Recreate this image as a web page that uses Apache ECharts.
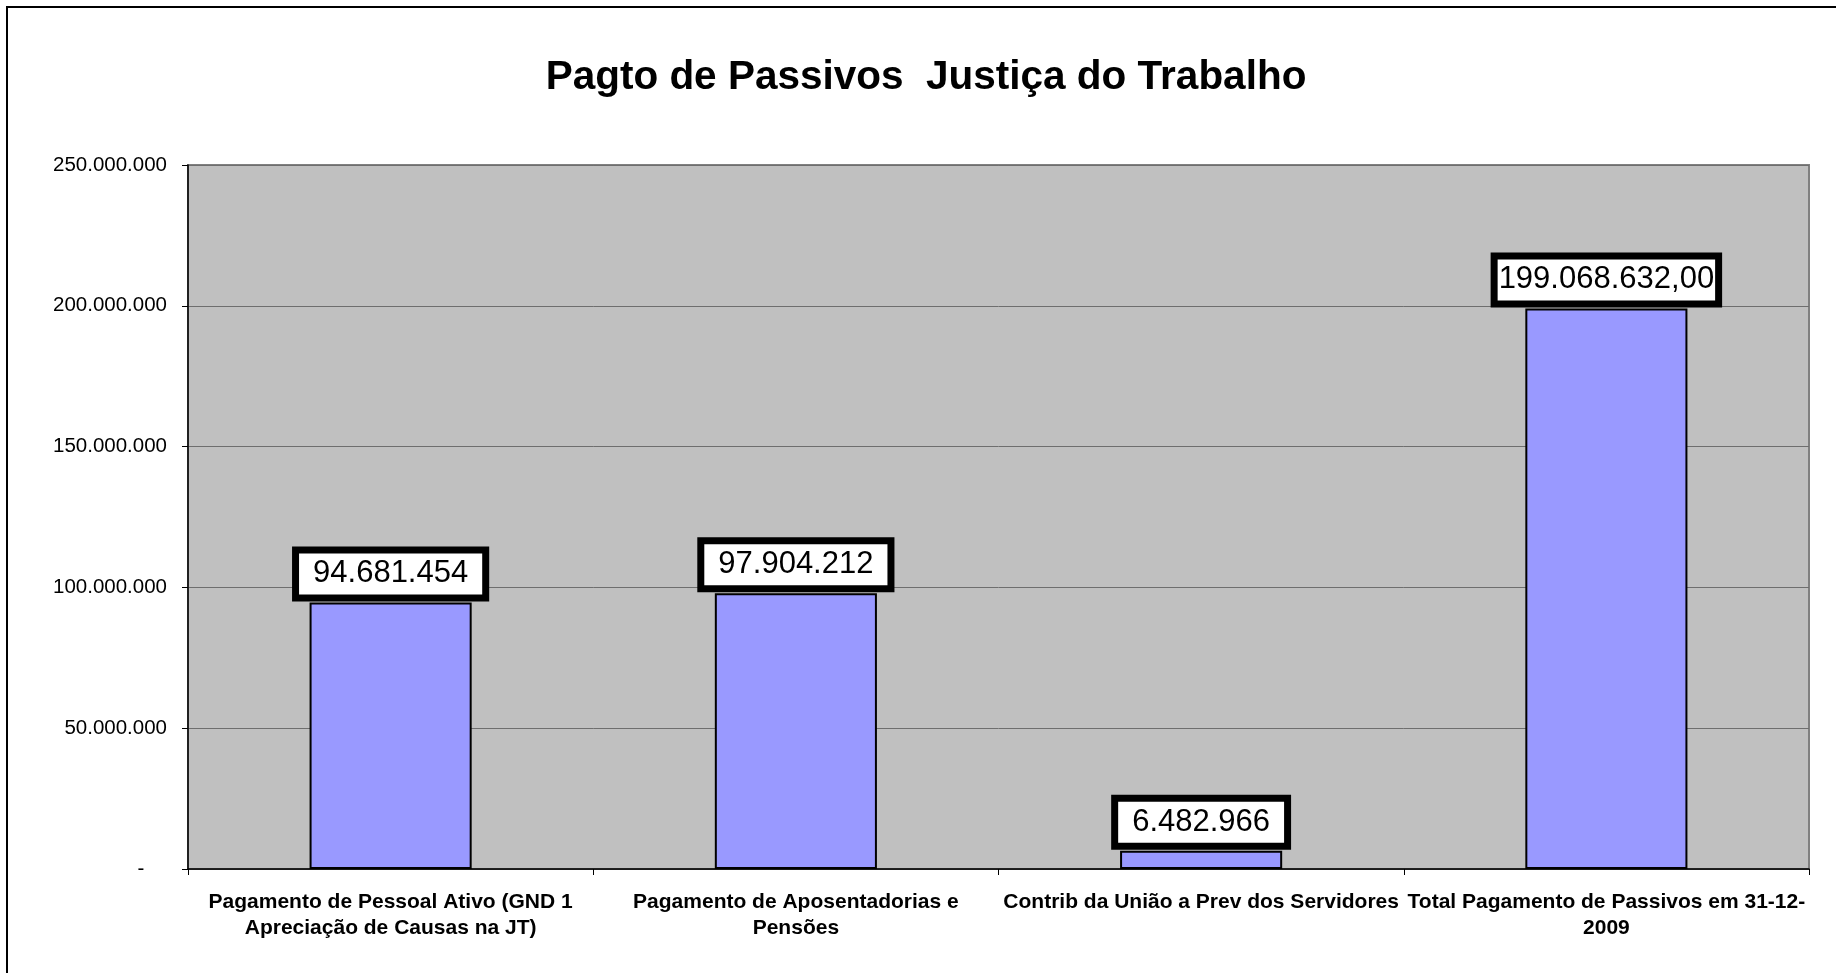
<!DOCTYPE html>
<html>
<head>
<meta charset="utf-8">
<title>Pagto de Passivos Justiça do Trabalho</title>
<script src="https://cdn.jsdelivr.net/npm/echarts@6/dist/echarts.min.js"></script>
<style>
	html, body { margin: 0; padding: 0; background: #fff; }
	#chart { width: 1836px; height: 973px; }
</style>
</head>
<body>
<div id="chart"></div>
<script>
/*数据*/
var chartTitle = 'Pagto de Passivos  Justiça do Trabalho';
var categories = [
	'Pagamento de Pessoal Ativo (GND 1\nApreciação de Causas na JT)',
	'Pagamento de Aposentadorias e\nPensões',
	'Contrib da União a Prev dos Servidores',
	'Total Pagamento de Passivos em 31-12-\n2009'
];
var values = [94681454, 97904212, 6482966, 199068632];
var labelDecimals = [0, 0, 0, 2];
var yMin = 0;
var yMax = 250000000;
var yInterval = 50000000;

/*千位分隔*/
function formatNumber(v) {
	return String(Math.round(v)).replace(/\B(?=(\d{3})+(?!\d))/g, '.');
}

function getOption() {
	var seriesData = [];
	for(var i = 0; i < values.length; i++) {
		seriesData.push({
			value: values[i],
			label: {
				padding: labelDecimals[i] > 0 ? [5, 1] : [5, 14]
			}
		});
	}
	var option = {
		animation: false,
		textStyle: {
			fontFamily: 'Liberation Sans, Arial, sans-serif'
		},
		title: {
			text: chartTitle,
			left: 921,
			top: 52,
			textAlign: 'center',
			textStyle: {
				fontSize: 40.5,
				fontWeight: 'bold',
				color: '#000',
				fontFamily: 'Liberation Sans, Arial, sans-serif'
			}
		},
		graphic: [{
			type: 'rect',
			shape: { x: 7, y: 7, width: 1900, height: 1000 },
			style: { fill: 'none', stroke: '#000', lineWidth: 2 },
			silent: true
		}],
		grid: {
			left: 188,
			right: 27,
			top: 165,
			bottom: 104,
			show: true,
			backgroundColor: '#C0C0C0',
			borderColor: '#808080',
			borderWidth: 2
		},
		xAxis: [{
			type: 'category',
			data: categories,
			boundaryGap: true,
			axisLine: { lineStyle: { color: '#000', width: 1.5 } },
			axisTick: { show: true, length: 6, alignWithLabel: false, lineStyle: { color: '#000' } },
			axisLabel: {
				interval: 0,
				margin: 20,
				fontSize: 21,
				fontWeight: 'bold',
				lineHeight: 26,
				color: '#000'
			}
		}],
		yAxis: [{
			type: 'value',
			min: yMin,
			max: yMax,
			interval: yInterval,
			axisLine: { show: true, lineStyle: { color: '#000', width: 1.5 } },
			axisTick: { show: true, length: 6, lineStyle: { color: '#000' } },
			splitLine: { lineStyle: { color: '#6e6e6e', width: 1 } },
			axisLabel: {
				margin: 21,
				fontSize: 20.5,
				color: '#000',
				formatter: function(v) {
					if(v === 0) {
						return '-    ';
					}
					return formatNumber(v);
				}
			}
		}],
		series: [{
			type: 'bar',
			data: seriesData,
			barWidth: '40%',
			itemStyle: {
				color: '#9999FF',
				borderColor: '#000',
				borderWidth: 2
			},
			label: {
				show: true,
				position: 'top',
				distance: 8,
				fontSize: 31,
				color: '#000',
				backgroundColor: '#fff',
				borderColor: '#000',
				borderWidth: 7,
				formatter: function(p) {
					var txt = formatNumber(p.value);
					if(labelDecimals[p.dataIndex] > 0) {
						txt += ',' + '0'.repeat(labelDecimals[p.dataIndex]);
					}
					return txt;
				}
			}
		}]
	};
	return option;
}

echarts.init(document.getElementById('chart')).setOption(getOption());
</script>
</body>
</html>
